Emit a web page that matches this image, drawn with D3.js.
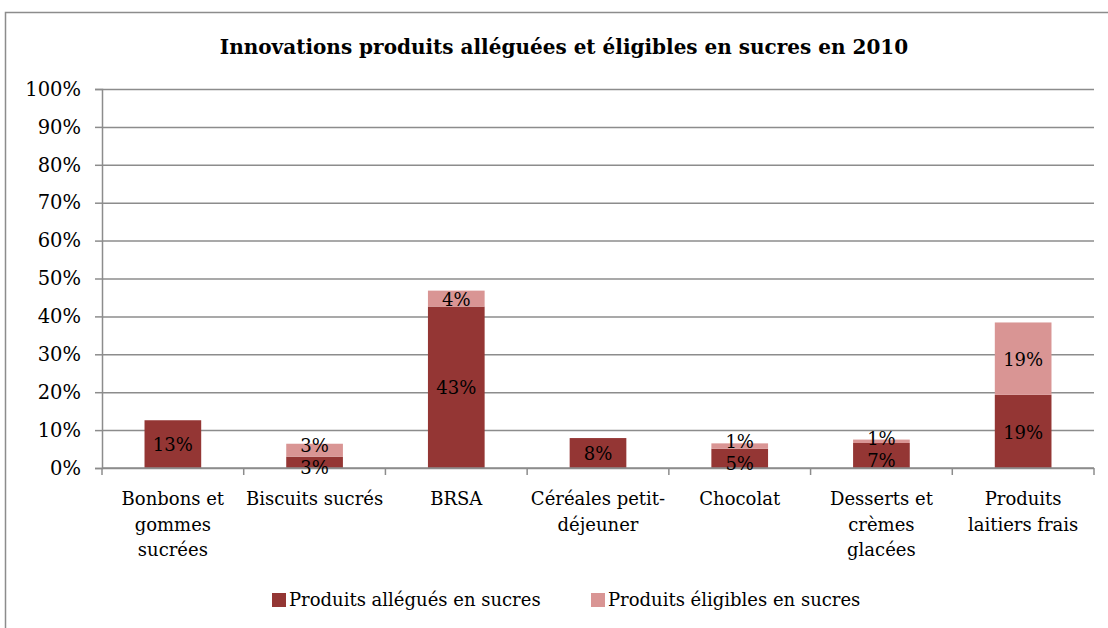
<!DOCTYPE html>
<html>
<head>
<meta charset="utf-8">
<script src="https://cdn.jsdelivr.net/npm/d3@7"></script>
<style>
  body { margin: 0; background: #fff; }
  text { font-family: "DejaVu Serif", "Liberation Serif", serif; fill: #000; }
</style>
</head>
<body>
<div id="chart"></div>
<script>
// Data (percent)
const categories = ["Bonbons et\ngommes\nsucrées", "Biscuits sucrés", "BRSA", "Céréales petit-\ndéjeuner", "Chocolat", "Desserts et\ncrèmes\nglacées", "Produits\nlaitiers frais"];
const allegues = [12.6, 3.0, 42.6, 7.9, 5.1, 6.6, 19.3];
const eligibles = [0, 3.4, 4.2, 0, 1.4, 0.9, 19.1];
const seriesNames = ["Produits allégués en sucres", "Produits éligibles en sucres"];
const seriesColors = ["#943634", "#D99594"];
const yTicks = [0, 10, 20, 30, 40, 50, 60, 70, 80, 90, 100];
const title = "Innovations produits alléguées et éligibles en sucres en 2010";

const W = 1108, H = 628;
const plotLeft = 102, plotRight = 1094, plotTop = 89, plotBottom = 468;

const svg = d3.select("#chart").append("svg")
    .attr("width", W)
    .attr("height", H);

// outer frame (cut by the picture on right and bottom)
svg.append("rect")
    .attr("x", 5.5).attr("y", 12.5)
    .attr("width", W + 20).attr("height", H + 20)
    .attr("fill", "none")
    .attr("stroke", "#8c8c8c")
    .attr("stroke-width", 1.5);

svg.append("text")
    .attr("x", 564)
    .attr("y", 54)
    .attr("text-anchor", "middle")
    .style("font-weight", "bold")
    .style("font-size", "20px")
    .text(title);

const x = d3.scaleBand().domain(d3.range(categories.length)).range([plotLeft, plotRight])
    .paddingInner(0.6).paddingOuter(0.3);
const y = d3.scaleLinear().domain([0, 100]).range([plotBottom, plotTop]);

// gridlines
svg.append("g")
    .attr("transform", `translate(${plotLeft},0)`)
    .call(d3.axisLeft(y).tickValues(yTicks).tickSize(-(plotRight - plotLeft)).tickFormat(""))
    .call(g => g.select(".domain").remove())
    .call(g => g.selectAll("line").attr("stroke", "#8c8c8c").attr("stroke-width", 1.5));

// y axis
svg.append("g")
    .attr("transform", `translate(${plotLeft},0)`)
    .call(d3.axisLeft(y).tickValues(yTicks).tickSize(7).tickPadding(14).tickFormat(d => d + "%"))
    .call(g => g.select(".domain").attr("stroke", "#8c8c8c").attr("stroke-width", 1.5))
    .call(g => g.selectAll("line").attr("stroke", "#8c8c8c").attr("stroke-width", 1.5))
    .call(g => g.selectAll("text").style("font-size", "19.5px").attr("font-family", null));

// stacked bars
const rows = categories.map((c, i) => ({ i: i, a: allegues[i], e: eligibles[i] }));
const stack = d3.stack().keys(["a", "e"])(rows);

svg.append("g").selectAll("g")
    .data(stack)
    .join("g")
    .attr("fill", (d, k) => seriesColors[k])
    .selectAll("rect")
    .data(d => d)
    .join("rect")
    .attr("x", d => x(d.data.i))
    .attr("y", d => y(d[1]))
    .attr("width", x.bandwidth())
    .attr("height", d => y(d[0]) - y(d[1]));

// x axis line and boundary ticks
const xAxis = svg.append("g");
xAxis.append("line")
    .attr("x1", plotLeft).attr("x2", plotRight)
    .attr("y1", plotBottom).attr("y2", plotBottom)
    .attr("stroke", "#8c8c8c").attr("stroke-width", 1.5);
xAxis.selectAll("line.tick")
    .data(d3.range(categories.length + 1))
    .join("line")
    .attr("class", "tick")
    .attr("x1", i => plotLeft + i * x.step()).attr("x2", i => plotLeft + i * x.step())
    .attr("y1", plotBottom).attr("y2", plotBottom + 7)
    .attr("stroke", "#8c8c8c").attr("stroke-width", 1.5);

xAxis.selectAll("text")
    .data(categories)
    .join("text")
    .attr("text-anchor", "middle")
    .attr("y", 505)
    .style("font-size", "18px")
    .each(function(d, i) {
        d3.select(this).selectAll("tspan")
            .data(d.split("\n"))
            .join("tspan")
            .attr("x", x(i) + x.bandwidth() / 2)
            .attr("dy", (t, j) => j === 0 ? 0 : 25.5)
            .text(t => t);
    });

// data labels, centered in segment, pushed apart when they collide
const minGap = 22;
const labelG = svg.append("g");
rows.forEach((r, i) => {
    const segs = stack.map(s => s[i]).filter(s => s[1] - s[0] > 0);
    const pos = segs.map(s => ({ c: (y(s[0]) + y(s[1])) / 2, s: s }));
    if (pos.length === 2 && pos[0].c - pos[1].c < minGap) {
        const mid = (pos[0].c + pos[1].c) / 2;
        pos[0].c = mid + minGap / 2;
        pos[1].c = mid - minGap / 2;
    }
    pos.forEach(p => {
        labelG.append("text")
            .attr("x", x(i) + x.bandwidth() / 2)
            .attr("y", p.c)
            .attr("dy", "0.4em")
            .attr("text-anchor", "middle")
            .style("font-size", "18px")
            .text(Math.round(p.s[1] - p.s[0]) + "%");
    });
});

// legend
const legend = svg.append("g");
const legendX = [272, 591];
seriesNames.forEach((n, k) => {
    legend.append("rect")
        .attr("x", legendX[k]).attr("y", 593)
        .attr("width", 14).attr("height", 14)
        .attr("fill", seriesColors[k]);
    legend.append("text")
        .attr("x", legendX[k] + 17).attr("y", 606)
        .style("font-size", "18px")
        .text(n);
});
</script>
</body>
</html>
